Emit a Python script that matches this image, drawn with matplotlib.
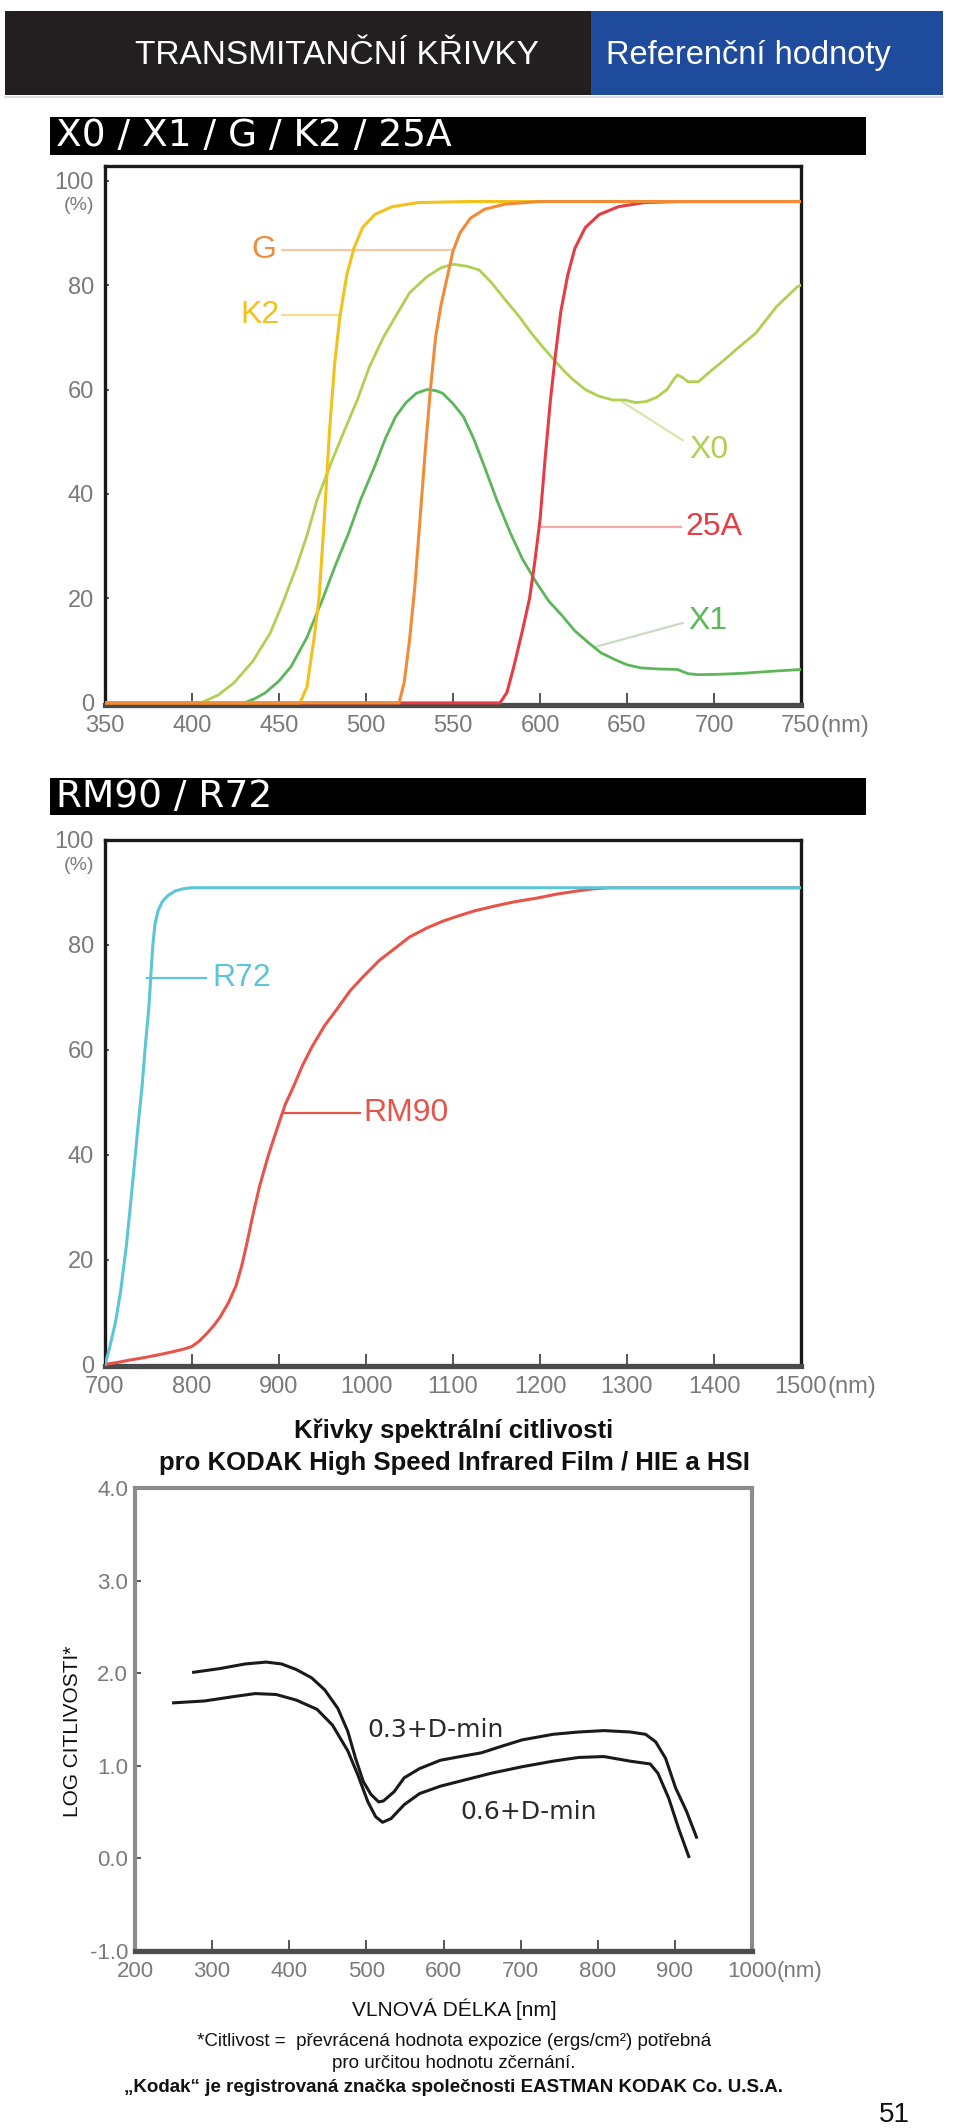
import matplotlib
matplotlib.use('Agg')
import matplotlib.pyplot as plt
from matplotlib import font_manager
from matplotlib.patches import Rectangle

# ---------------- DATA ----------------
# Panel 1: X0 / X1 / G / K2 / 25A  (wavelength nm, transmittance %)
k2_nm = [350, 462, 466, 470, 473, 476, 479, 482, 485, 489, 493, 498, 505, 515, 530, 560, 750]
k2_t = [0, 0, 3, 12, 20, 35, 52, 65, 74, 82, 87, 91, 93.5, 95, 95.8, 96, 96]
g_nm = [350, 519, 522, 525, 528, 531, 534, 537, 540, 543, 547, 550, 554, 560, 568, 580, 600, 750]
g_t = [0, 0, 4, 12, 22, 35, 48, 60, 70, 76, 82, 86.5, 90, 92.8, 94.5, 95.5, 96, 96]
a25_nm = [350, 577, 581, 585, 590, 594, 597, 600, 603, 606, 609, 612, 616, 620, 626, 634, 645, 660, 680, 750]
a25_t = [0, 0, 2, 7, 14, 20, 27, 35, 47, 58, 67, 75, 82, 87, 91, 93.5, 95, 95.8, 96, 96]
x0_nm = [405, 415, 424, 435, 445, 452, 460, 466, 472, 480, 487, 495, 502, 510, 517, 525, 535,
         543, 550, 558, 565, 572, 580, 588, 595, 602, 608, 614, 619, 626, 634, 642, 649, 655,
         661, 667, 673, 677, 679, 682, 685, 691, 698, 706, 715, 724, 736, 748, 750]
x0_t = [0, 1.5, 3.8, 8, 13.4, 19, 26, 32, 39, 46, 51.7, 58, 64.4, 70, 74, 78.5, 81.6,
        83.3, 84, 83.6, 82.9, 80.5, 77.2, 74, 70.8, 68, 65.7, 63.5, 61.9, 60, 58.7, 58, 58, 57.5,
        57.7, 58.5, 60, 62, 62.8, 62.3, 61.5, 61.5, 63.5, 65.7, 68.3, 70.8, 75.9, 79.7, 80]
x1_nm = [430, 436, 442, 450, 457, 466, 475, 482, 490, 497, 505, 511, 517, 523, 529, 535, 540,
         544, 550, 556, 562, 568, 575, 583, 590, 598, 605, 613, 620, 628, 635, 643, 650, 658,
         668, 679, 685, 691, 705, 718, 735, 750]
x1_t = [0, 0.8, 1.9, 4.2, 7, 12.5, 19.8, 26, 32.5, 39, 45.3, 50.5, 54.8, 57.5, 59.3, 60, 59.8,
        59.3, 57.3, 54.8, 50.5, 45.3, 39, 32.5, 27.5, 23, 19.5, 16.6, 13.8, 11.5, 9.6, 8.3, 7.3, 6.7,
        6.5, 6.4, 5.6, 5.4, 5.5, 5.7, 6.1, 6.4]

# Panel 2: RM90 / R72
r72_nm = [700, 705, 712, 718, 724.6, 729, 733.6, 738, 742.6, 746.5, 750.4, 753, 755, 757.5,
          761, 766, 773, 781, 790, 800, 1500]
r72_t = [0, 3, 8, 14, 22.7, 30, 37.8, 45.5, 53, 61, 68, 75, 80, 84,
         86.5, 88.3, 89.5, 90.3, 90.7, 90.9, 90.9]
rm90_nm = [700, 715, 727.6, 745, 763.6, 780, 790, 799.6, 808, 817.6, 825, 832.6, 842, 850.6,
           857, 862.6, 870, 877.7, 888, 898.7, 907, 916.7, 927, 937.7, 952, 967.7, 982, 997.7,
           1015, 1033.7, 1050, 1069.7, 1088, 1105.7, 1125, 1147.8, 1170, 1195.8, 1220, 1243.8,
           1262, 1280, 1500]
rm90_t = [0, 0.4, 0.8, 1.3, 1.9, 2.5, 2.9, 3.4, 4.4, 6, 7.4, 9.1, 11.8, 15,
          18.7, 22.7, 28.5, 34, 40, 45.4, 49.5, 53, 57, 60.5, 64.5, 68, 71.3, 74.1,
          77, 79.4, 81.5, 83.2, 84.5, 85.5, 86.5, 87.4, 88.2, 88.9, 89.7, 90.3,
          90.7, 90.9, 90.9]

# Panel 3: KODAK HIE spectral sensitivity (nm, log sensitivity)
d03_nm = [276, 310, 343, 370, 390, 409, 429, 446, 463, 476, 486, 496, 506, 516, 522, 536,
          549, 569, 596, 622, 649, 675, 702, 742, 775, 808, 842, 862, 875, 888, 901, 915, 928]
d03_v = [2.01, 2.05, 2.10, 2.12, 2.10, 2.04, 1.95, 1.82, 1.62, 1.37, 1.08, 0.83, 0.69, 0.61, 0.62, 0.72,
         0.87, 0.97, 1.06, 1.10, 1.14, 1.21, 1.28, 1.34, 1.365, 1.38, 1.365, 1.34, 1.26, 1.08, 0.76, 0.51, 0.23]
d06_nm = [250, 290, 330, 356, 383, 409, 436, 456, 476, 489, 502, 512, 521, 532, 549, 569,
          596, 629, 662, 702, 742, 775, 808, 842, 868, 878, 892, 905, 918]
d06_v = [1.68, 1.70, 1.75, 1.78, 1.77, 1.71, 1.61, 1.44, 1.16, 0.90, 0.61, 0.45, 0.39, 0.43, 0.58, 0.70,
         0.78, 0.85, 0.92, 0.99, 1.05, 1.09, 1.10, 1.05, 1.02, 0.92, 0.65, 0.32, 0.02]

p1_xticks = [350, 400, 450, 500, 550, 600, 650, 700, 750]
p1_yticks = [0, 20, 40, 60, 80, 100]
p2_xticks = [700, 800, 900, 1000, 1100, 1200, 1300, 1400, 1500]
p2_yticks = [0, 20, 40, 60, 80, 100]
p3_xticks = [200, 300, 400, 500, 600, 700, 800, 900, 1000]
p3_yticks = [-1.0, 0.0, 1.0, 2.0, 3.0, 4.0]
p3_ylabels = ['-1.0', '0.0', '1.0', '2.0', '3.0', '4.0']

# ---------------- FONTS ----------------
names = {f.name for f in font_manager.fontManager.ttflist}
def pick(*fams):
    for f in fams:
        if f in names:
            return f
    return 'DejaVu Sans'
SANS = pick('Liberation Sans', 'Arimo', 'DejaVu Sans')
NARROW = pick('Liberation Sans Narrow', 'Liberation Sans', 'DejaVu Sans')
BARF = 'DejaVu Sans'

W, H = 960, 2128
fig = plt.figure(figsize=(W / 100, H / 100), dpi=100)
fig.patch.set_facecolor('white')
bg = fig.add_axes([0, 0, 1, 1], zorder=0)
bg.set_xlim(0, W)
bg.set_ylim(H, 0)
bg.axis('off')
bg.patch.set_alpha(0)

def rect(l, t, r, b):
    return [l / W, 1 - b / H, (r - l) / W, (b - t) / H]

# ---------------- HEADER ----------------
bg.add_patch(Rectangle((5, 11), 586, 84, facecolor='#231f20', edgecolor='none'))
bg.add_patch(Rectangle((591, 11), 352, 84, facecolor='#1e4b9b', edgecolor='none'))
bg.plot([5, 943], [97, 97], color='#dcdcdc', lw=1.5)
bg.text(337, 64, 'TRANSMITANČNÍ KŘIVKY', color='white', fontsize=24, family=NARROW,
        ha='center', va='baseline')
bg.text(748, 64, 'Referenční hodnoty', color='white', fontsize=23.5, family=NARROW,
        ha='center', va='baseline')

# title bars
bg.add_patch(Rectangle((50, 117), 816, 38, facecolor='black', edgecolor='none'))
bg.text(56, 136, 'X0 / X1 / G / K2 / 25A', color='white', fontsize=27, family=BARF,
        ha='left', va='center')
bg.add_patch(Rectangle((50, 778), 816, 37, facecolor='black', edgecolor='none'))
bg.text(56, 797, 'RM90 / R72', color='white', fontsize=27, family=BARF,
        ha='left', va='center')

TICKC = '#7a7a7a'

def style(ax, xt, xl, yt, yl, fs, frame, bottom, flw, blw, xlen, ylen, xpad, ypad, last_half_em):
    ax.set_xticks(xt)
    ax.set_xticklabels(xl, family=SANS, fontsize=fs, color=TICKC)
    ax.set_yticks(yt)
    ax.set_yticklabels(yl, family=SANS, fontsize=fs, color=TICKC)
    ax.tick_params(axis='x', direction='in', length=xlen, width=1.4, color='#555', pad=xpad)
    ax.tick_params(axis='y', direction='in', length=ylen, width=1.4, color='#555', pad=ypad)
    for s in ['left', 'top', 'right']:
        ax.spines[s].set_color(frame)
        ax.spines[s].set_linewidth(flw)
    ax.spines['bottom'].set_color(bottom)
    ax.spines['bottom'].set_linewidth(blw)
    ax.annotate('(nm)', xy=(1, 0), xycoords='axes fraction',
                xytext=(last_half_em * fs, -xpad), textcoords='offset points',
                ha='left', va='top', family=SANS, fontsize=fs, color=TICKC,
                annotation_clip=False)

# ---------------- PANEL 1 ----------------
ax1 = fig.add_axes(rect(105, 166, 801, 705), zorder=2)
ax1.set_xlim(350, 750)
ax1.set_ylim(-0.4, 102.8)
C_K2, C_G, C_25A, C_X0, C_X1 = '#f3c11b', '#f08c38', '#e63c44', '#afd053', '#5cb65a'
ax1.plot(x0_nm, x0_t, color=C_X0, lw=2.0, zorder=3)
ax1.plot(x1_nm, x1_t, color=C_X1, lw=2.0, zorder=3)
ax1.plot(a25_nm, a25_t, color=C_25A, lw=2.2, zorder=4)
ax1.plot(g_nm, g_t, color=C_G, lw=2.2, zorder=5)
ax1.plot(k2_nm, k2_t, color=C_K2, lw=2.2, zorder=4)
LFS = 23
ax1.plot([452, 550], [86.7, 86.7], color='#f7c9a6', lw=1.6, zorder=2)
ax1.text(434, 86.7, 'G', color=C_G, fontsize=LFS, family=SANS, ha='left', va='center')
ax1.plot([452, 485], [74.3, 74.3], color='#f4dc8e', lw=1.6, zorder=2)
ax1.text(428, 74.3, 'K2', color=C_K2, fontsize=LFS, family=SANS, ha='left', va='center')
ax1.plot([682, 647.5], [50.3, 57.6], color='#d6e7a9', lw=1.6, zorder=2)
ax1.text(686, 48.5, 'X0', color=C_X0, fontsize=LFS, family=SANS, ha='left', va='center')
ax1.plot([600, 681], [33.7, 33.7], color='#f4a8a8', lw=1.6, zorder=2)
ax1.text(683.5, 33.7, '25A', color=C_25A, fontsize=LFS, family=SANS, ha='left', va='center')
ax1.plot([682, 632.6], [15.3, 10.8], color='#c9dcc2', lw=1.6, zorder=2)
ax1.text(685, 15.7, 'X1', color=C_X1, fontsize=LFS, family=SANS, ha='left', va='center')
style(ax1, p1_xticks, [str(v) for v in p1_xticks], p1_yticks, [str(v) for v in p1_yticks],
      17, '#1a1a1a', '#4a4a4a', 2.4, 3.8, 9, 3, 7, 8, 0.834)
ax1.annotate('(%)', xy=(0, 95.2), xycoords=('axes fraction', 'data'), xytext=(-8, 0),
             textcoords='offset points', ha='right', va='center', family=SANS,
             fontsize=14, color=TICKC, annotation_clip=False)

# ---------------- PANEL 2 ----------------
ax2 = fig.add_axes(rect(105, 840, 801, 1366), zorder=2)
ax2.set_xlim(700, 1500)
ax2.set_ylim(-0.3, 100)
C_R72, C_RM90 = '#5cc6d6', '#e8544a'
ax2.plot(rm90_nm, rm90_t, color=C_RM90, lw=2.2, zorder=3)
ax2.plot(r72_nm, r72_t, color=C_R72, lw=2.2, zorder=4)
ax2.plot([748, 816], [73.75, 73.75], color=C_R72, lw=1.6, zorder=2)
ax2.text(823.5, 73.75, 'R72', color=C_R72, fontsize=LFS, family=SANS, ha='left', va='center')
ax2.plot([906, 993], [48, 48], color=C_RM90, lw=1.6, zorder=2)
ax2.text(996.5, 48, 'RM90', color=C_RM90, fontsize=LFS, family=SANS, ha='left', va='center')
style(ax2, p2_xticks, [str(v) for v in p2_xticks], p2_yticks, [str(v) for v in p2_yticks],
      17, '#1a1a1a', '#4a4a4a', 2.4, 3.8, 9, 3, 7, 8, 1.112)
ax2.annotate('(%)', xy=(0, 95.2), xycoords=('axes fraction', 'data'), xytext=(-8, 0),
             textcoords='offset points', ha='right', va='center', family=SANS,
             fontsize=14, color=TICKC, annotation_clip=False)

# ---------------- PANEL 3 ----------------
BOLDN = dict(family=NARROW, fontweight='bold', color='#111')
bg.text(454, 1431, 'Křivky spektrální citlivosti', fontsize=18.5, ha='center', va='center', **BOLDN)
bg.text(454, 1463, 'pro KODAK High Speed Infrared Film / HIE a HSI', fontsize=18.5,
        ha='center', va='center', **BOLDN)

ax3 = fig.add_axes(rect(135, 1488, 752, 1951), zorder=2)
ax3.set_xlim(200, 1000)
ax3.set_ylim(-1.0, 4.0)
ax3.plot(d03_nm, d03_v, color='#1a1a1a', lw=2.2, zorder=3)
ax3.plot(d06_nm, d06_v, color='#1a1a1a', lw=2.2, zorder=3)
ax3.text(590, 1.39, '0.3+D-min', fontsize=18, family=BARF, color='#2a2a2a', ha='center', va='center')
ax3.text(710, 0.505, '0.6+D-min', fontsize=18, family=BARF, color='#2a2a2a', ha='center', va='center')
style(ax3, p3_xticks, [str(v) for v in p3_xticks], p3_yticks, p3_ylabels,
      16, '#8c8c8c', '#4d4d4d', 3.0, 3.8, 8, 4, 7, 5, 1.112)
bg.text(72, 1731, 'LOG CITLIVOSTI*', rotation=90, fontsize=15, family=SANS, color='#111',
        ha='center', va='center')

# footer texts
bg.text(454, 2009, 'VLNOVÁ DÉLKA [nm]', fontsize=15, family=NARROW, color='#111',
        ha='center', va='center')
bg.text(454, 2041, '*Citlivost =  převrácená hodnota expozice (ergs/cm²) potřebná', fontsize=13.5,
        family=NARROW, color='#111', ha='center', va='center')
bg.text(454, 2064, 'pro určitou hodnotu zčernání.', fontsize=13.5, family=NARROW, color='#111',
        ha='center', va='center')
bg.text(454, 2088, '„Kodak“ je registrovaná značka společnosti EASTMAN KODAK Co. U.S.A.',
        fontsize=13.5, ha='center', va='center', **BOLDN)
bg.text(894, 2115, '51', fontsize=20, family=NARROW, color='#111', ha='center', va='center')

fig.savefig('out.png', dpi=100, facecolor='white')
